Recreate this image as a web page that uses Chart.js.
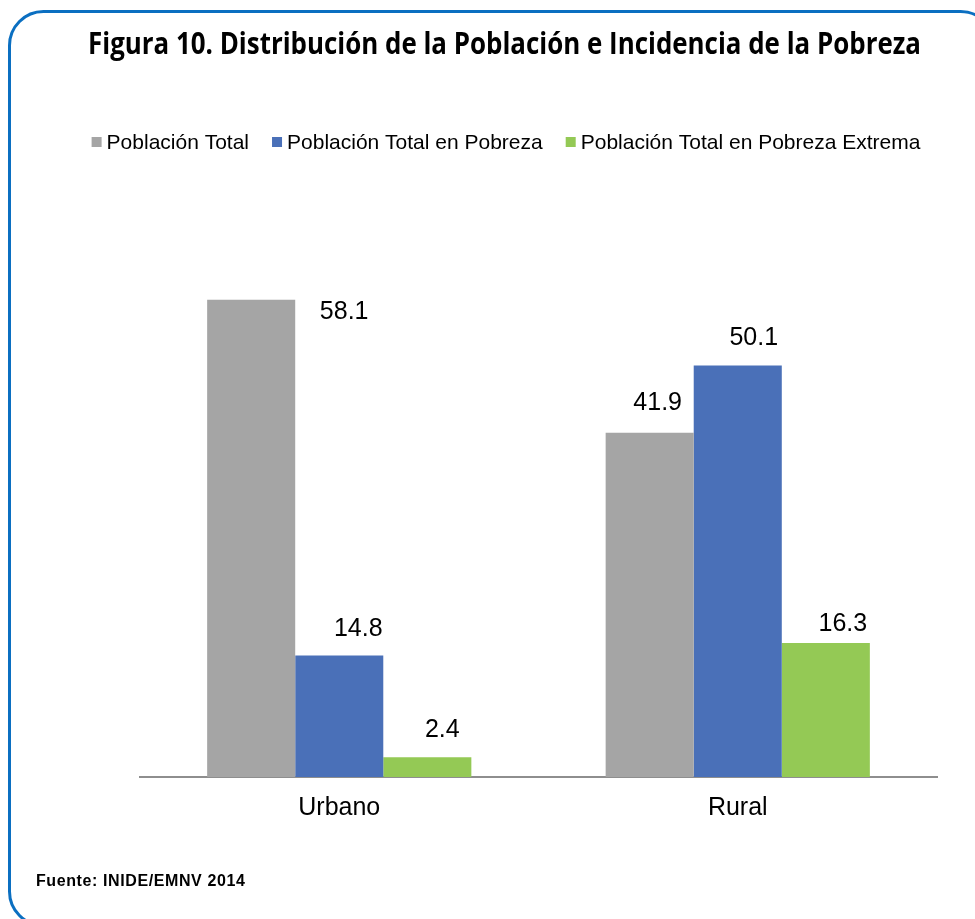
<!DOCTYPE html>
<html>
<head>
<meta charset="utf-8">
<script src="https://cdn.jsdelivr.net/npm/chart.js@4.4.1/dist/chart.umd.min.js"></script>
<style>
html,body{margin:0;padding:0;background:#fff;}
#wrap{position:relative;width:975px;height:919px;}
canvas{display:block;}
</style>
</head>
<body>
<div id="wrap"><canvas id="c" width="975" height="919"></canvas></div>
<script>
// ---- data ----
const categories = ["Urbano", "Rural"];
const seriesNames = ["Población Total", "Población Total en Pobreza", "Población Total en Pobreza Extrema"];
const poblacionTotal = [58.1, 41.9];
const pobreza = [14.8, 50.1];
const pobrezaExtrema = [2.4, 16.3];
const titleText = "Figura 10. Distribución de la Población e Incidencia de la Pobreza";
const sourceText = "Fuente: INIDE/EMNV 2014";

// ---- styles ----
const colors = ["#a5a5a5", "#4a70b8", "#94c955"];
// label nudges relative to bar top (dx, dy to baseline)
const labelNudge = [
  [[93, 19], [8, -23]],
  [[19, -19], [16, -20]],
  [[15, -20], [17, -12]]
];

const frameTitlePlugin = {
  id: 'frameTitle',
  beforeDraw(chart) {
    const ctx = chart.ctx;
    ctx.save();
    ctx.fillStyle = '#fff';
    ctx.fillRect(0, 0, chart.width, chart.height);
    // frame
    ctx.strokeStyle = '#0b6fc1';
    ctx.lineWidth = 3;
    ctx.beginPath();
    ctx.roundRect(9.5, 11.5, 985, 914, 34);
    ctx.stroke();
    // title
    ctx.fillStyle = '#000';
    ctx.font = 'bold 30px "Open Sans"';
    ctx.textBaseline = 'alphabetic';
    ctx.textAlign = 'left';
    const w = ctx.measureText(titleText).width;
    const target = 833;
    ctx.translate(88, 54);
    ctx.scale(target / w, 1);
    ctx.fillText(titleText, 0, 0);
    ctx.restore();

    // legend
    ctx.save();
    ctx.font = '21px "Liberation Sans", Arial, sans-serif';
    ctx.textBaseline = 'middle';
    ctx.textAlign = 'left';
    const box = 10, gapBox = 5, gapItem = 23;
    const ds = chart.data.datasets;
    let total = 0;
    ds.forEach((d, i) => {
      total += box + gapBox + ctx.measureText(d.label).width + (i < ds.length - 1 ? gapItem : 0);
    });
    let x = 506 - total / 2;
    const cy = 142;
    ds.forEach((d) => {
      ctx.fillStyle = d.backgroundColor;
      ctx.fillRect(x, cy - 5, box, box);
      x += box + gapBox;
      ctx.fillStyle = '#000';
      ctx.fillText(d.label, x, cy + 1);
      x += ctx.measureText(d.label).width + gapItem;
    });
    // source
    ctx.font = 'bold 16px "Liberation Sans", Arial, sans-serif';
    ctx.letterSpacing = '0.6px';
    ctx.textBaseline = 'alphabetic';
    ctx.fillText(sourceText, 36, 886);
    ctx.restore();
  }
};

const labelPlugin = {
  id: 'barLabels',
  afterDatasetsDraw(chart) {
    const ctx = chart.ctx;
    ctx.save();
    ctx.font = '25px "Liberation Sans", Arial, sans-serif';
    ctx.fillStyle = '#000';
    ctx.textAlign = 'center';
    ctx.textBaseline = 'alphabetic';
    chart.data.datasets.forEach((d, i) => {
      const meta = chart.getDatasetMeta(i);
      meta.data.forEach((bar, j) => {
        const n = labelNudge[i][j];
        ctx.fillText(d.data[j].toFixed(1), bar.x + n[0], bar.y + n[1]);
      });
    });
    ctx.restore();
  }
};

const seriesValues = [poblacionTotal, pobreza, pobrezaExtrema];

new Chart(document.getElementById('c'), {
  type: 'bar',
  data: {
    labels: categories,
    datasets: seriesNames.map((name, i) => ({
      label: name,
      data: seriesValues[i],
      backgroundColor: colors[i],
      borderWidth: 0,
      barPercentage: 1,
      categoryPercentage: 0.663
    }))
  },
  options: {
    responsive: false,
    animation: false,
    devicePixelRatio: 1,
    layout: { padding: { left: 140, right: 38, top: 202, bottom: 92 } },
    plugins: {
      legend: { display: false },
      title: { display: false },
      tooltip: { enabled: false }
    },
    scales: {
      x: {
        grid: { display: false, drawTicks: false },
        border: { display: true, color: '#8e8e8e', width: 2 },
        ticks: {
          color: '#000',
          padding: 16,
          font: { family: '"Liberation Sans", Arial, sans-serif', size: 25 }
        },
        afterFit(scale) { scale.height = 50; }
      },
      y: {
        display: false,
        min: 0,
        max: 70
      }
    }
  },
  plugins: [frameTitlePlugin, labelPlugin]
});
</script>
</body>
</html>
